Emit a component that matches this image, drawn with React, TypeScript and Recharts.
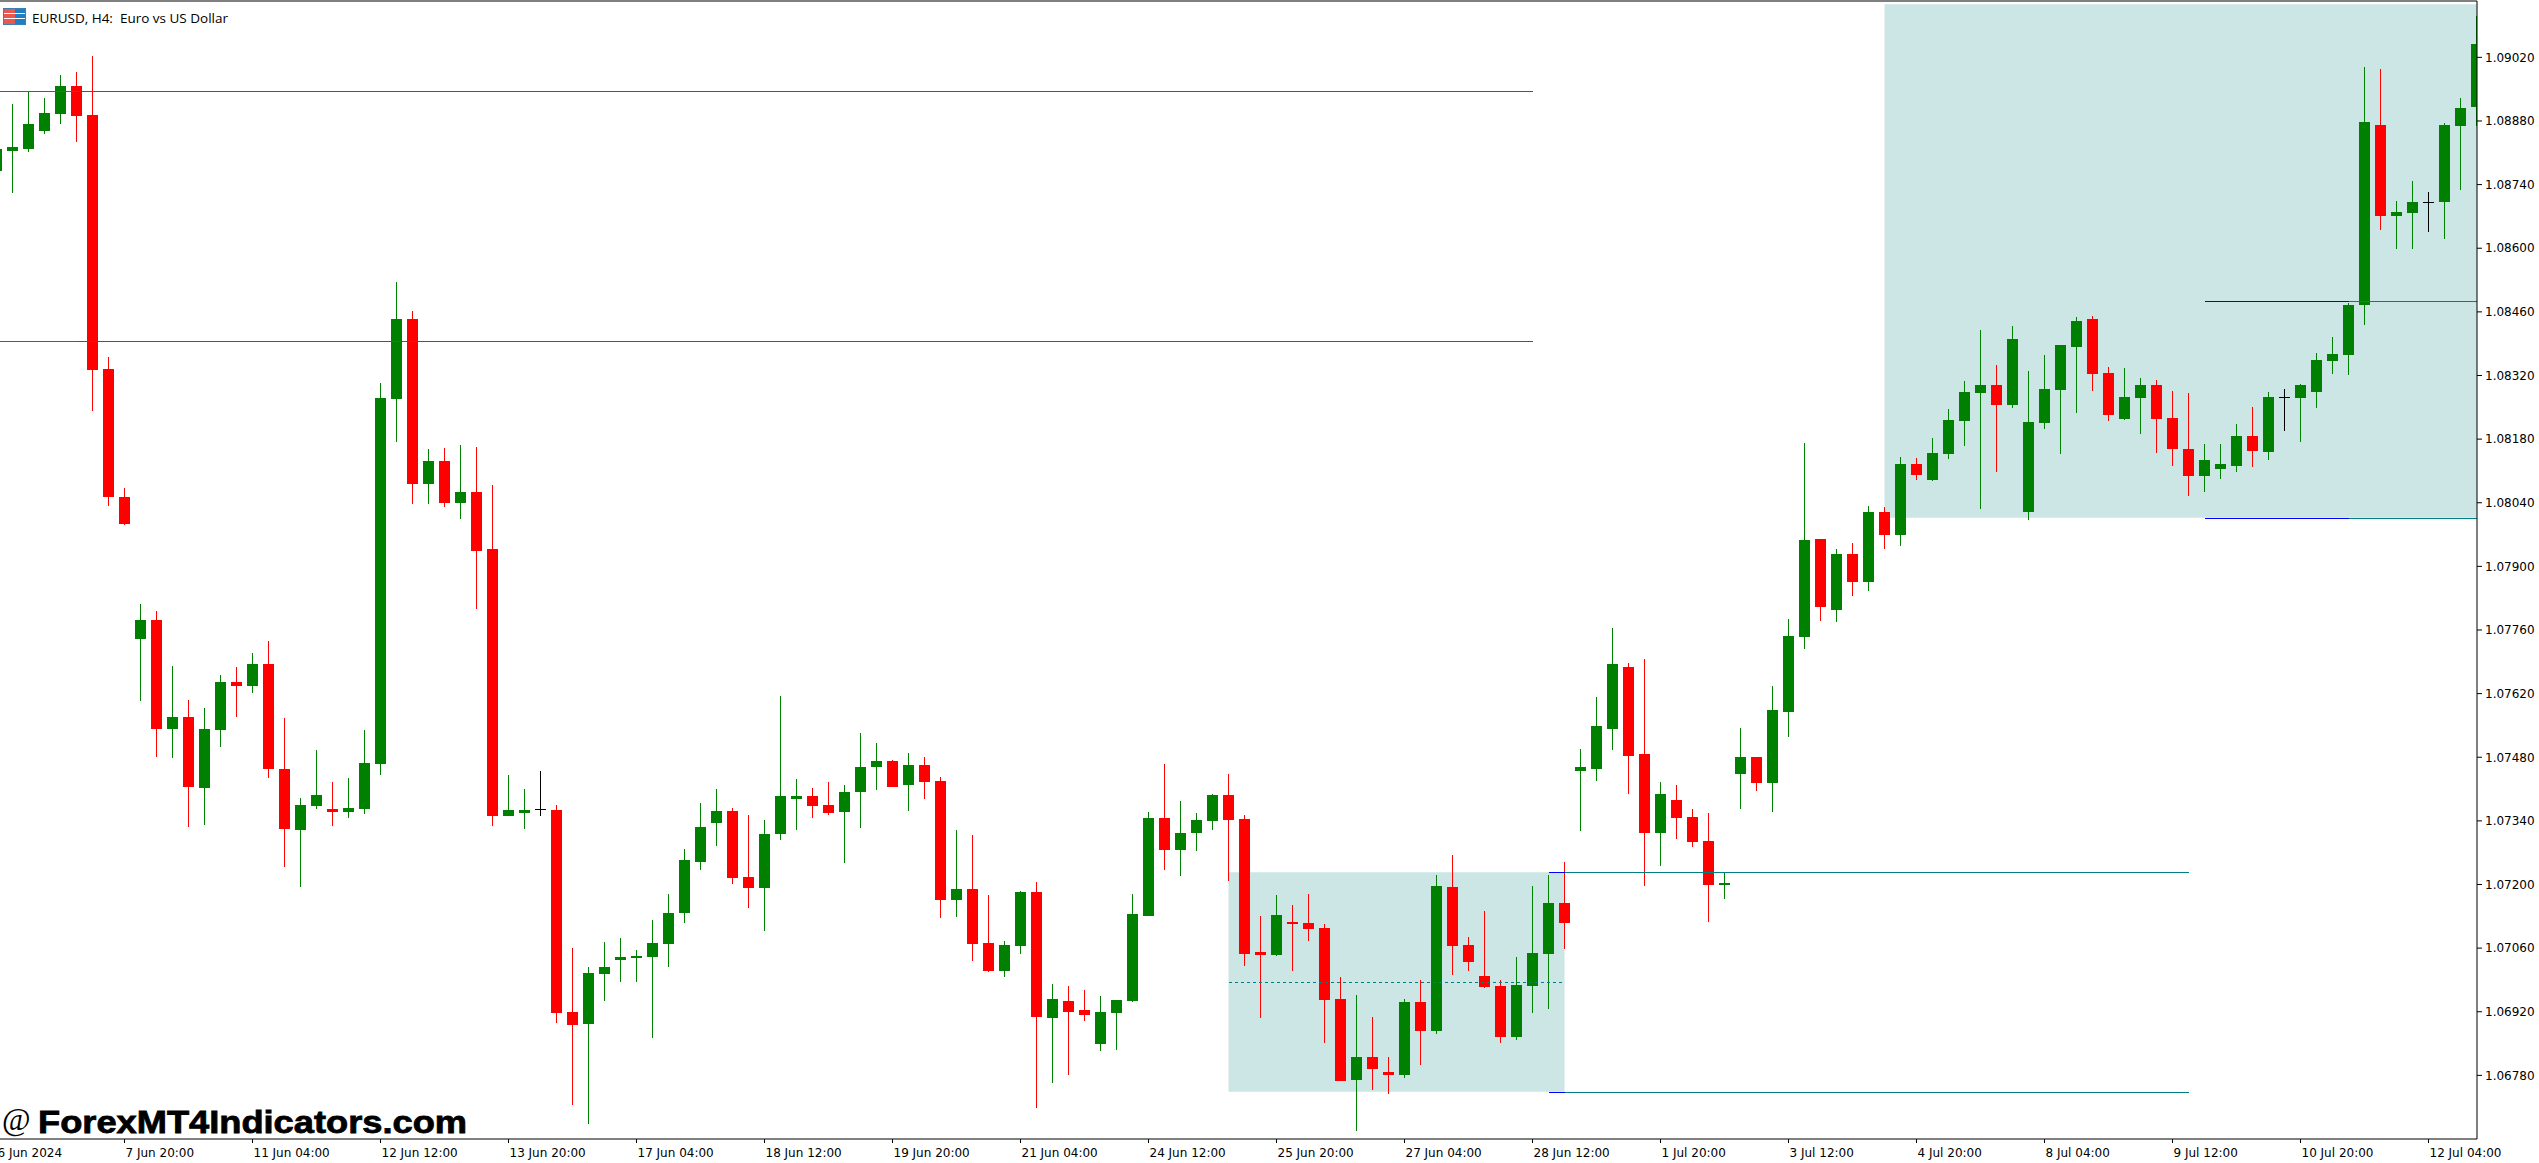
import { ComposedChart, Bar, XAxis, YAxis, ReferenceArea, ReferenceLine } from 'recharts'

// EURUSD H4, prices in points (1/100000), first bar is only partly on screen
const opens = [
  108770, 108814, 108818, 108858, 108895, 108957, 108893, 108334, 108053, 107740,
  107782, 107542, 107569, 107412, 107540, 107646, 107637, 107685, 107454, 107320,
  107373, 107366, 107360, 107366, 107465, 108268, 108444, 108081, 108132, 108039,
  108064, 107938, 107351, 107357, 107366, 107364, 106920, 106893, 107003, 107034,
  107038, 107041, 107069, 107137, 107250, 107335, 107362, 107217, 107192, 107311,
  107388, 107395, 107375, 107360, 107404, 107459, 107472, 107419, 107463, 107428,
  107166, 107190, 107071, 107010, 107065, 107184, 106906, 106944, 106924, 106849,
  106917, 106944, 107131, 107346, 107276, 107313, 107340, 107397, 107344, 107052,
  107045, 107118, 107115, 107104, 106948, 106770, 106821, 106788, 106781, 106942,
  106878, 107195, 107067, 106999, 106977, 106865, 106977, 107047, 107159, 107450,
  107454, 107542, 107679, 107487, 107313, 107386, 107349, 107296, 107199, 107443,
  107481, 107423, 107580, 107745, 107960, 107804, 107927, 107866, 108020, 107969,
  108125, 108090, 108147, 108220, 108281, 108299, 108255, 108020, 108215, 108288,
  108383, 108444, 108325, 108224, 108270, 108299, 108226, 108158, 108099, 108114,
  108121, 108187, 108152, 108273, 108270, 108284, 108352, 108365, 108475, 108871,
  108671, 108677, 108702, 108702, 108869, 108911,
]
const closes = [
  108818, 108823, 108873, 108897, 108957, 108891, 108332, 108053, 107993, 107782,
  107542, 107569, 107415, 107542, 107646, 107637, 107685, 107454, 107322, 107375,
  107397, 107360, 107368, 107467, 108270, 108444, 108081, 108132, 108039, 108064,
  107934, 107351, 107364, 107364, 107366, 106917, 106891, 107005, 107019, 107041,
  107043, 107071, 107137, 107254, 107327, 107362, 107214, 107192, 107311, 107395,
  107395, 107373, 107357, 107404, 107459, 107472, 107415, 107463, 107426, 107166,
  107190, 107069, 107010, 107067, 107184, 106909, 106948, 106920, 106913, 106920,
  106946, 107135, 107346, 107276, 107313, 107342, 107397, 107342, 107047, 107045,
  107133, 107113, 107102, 106946, 106768, 106821, 106794, 106781, 106942, 106878,
  107197, 107065, 107030, 106975, 106865, 106979, 107049, 107159, 107115, 107459,
  107549, 107685, 107483, 107313, 107399, 107346, 107294, 107199, 107203, 107481,
  107423, 107584, 107747, 107958, 107811, 107927, 107866, 108020, 107969, 108125,
  108101, 108149, 108222, 108284, 108299, 108255, 108400, 108218, 108290, 108387,
  108440, 108323, 108233, 108273, 108299, 108224, 108158, 108099, 108134, 108125,
  108187, 108154, 108273, 108273, 108299, 108354, 108367, 108475, 108878, 108671,
  108680, 108702, 108702, 108871, 108908, 109049,
]
const highs = [
  108838, 108917, 108945, 108930, 108981, 108988, 109023, 108361, 108072, 107817,
  107802, 107681, 107606, 107588, 107661, 107679, 107709, 107736, 107566, 107390,
  107496, 107426, 107434, 107540, 108303, 108526, 108462, 108158, 108160, 108167,
  108163, 108079, 107441, 107410, 107450, 107375, 107060, 107019, 107074, 107082,
  107056, 107122, 107179, 107278, 107379, 107410, 107368, 107353, 107342, 107615,
  107432, 107412, 107426, 107419, 107533, 107511, 107474, 107489, 107481, 107437,
  107320, 107309, 107177, 107076, 107186, 107206, 106981, 106977, 106968, 106955,
  106946, 107179, 107360, 107465, 107384, 107357, 107399, 107443, 107353, 107131,
  107177, 107155, 107179, 107113, 106997, 106957, 106909, 106821, 106948, 106990,
  107221, 107265, 107085, 107142, 106990, 107041, 107197, 107221, 107250, 107498,
  107613, 107764, 107687, 107696, 107426, 107419, 107366, 107357, 107226, 107544,
  107481, 107637, 107784, 108171, 107960, 107938, 107951, 108033, 108031, 108141,
  108138, 108182, 108246, 108308, 108420, 108343, 108429, 108330, 108365, 108387,
  108449, 108451, 108339, 108336, 108314, 108310, 108286, 108281, 108169, 108169,
  108213, 108251, 108284, 108290, 108301, 108369, 108405, 108479, 108999, 108994,
  108704, 108748, 108724, 108875, 108930, 109111,
]
const lows = [
  108754, 108722, 108812, 108851, 108873, 108834, 108242, 108033, 107991, 107604,
  107481, 107478, 107327, 107331, 107503, 107569, 107621, 107434, 107239, 107195,
  107366, 107329, 107346, 107355, 107441, 108174, 108037, 108037, 108031, 108004,
  107806, 107329, 107351, 107322, 107351, 106895, 106715, 106673, 106944, 106986,
  106986, 106862, 107019, 107115, 107232, 107285, 107201, 107148, 107098, 107298,
  107320, 107346, 107353, 107247, 107324, 107408, 107415, 107362, 107388, 107126,
  107129, 107032, 107008, 106997, 107047, 106708, 106763, 106781, 106900, 106834,
  106836, 106942, 107131, 107232, 107219, 107274, 107320, 107208, 107021, 106906,
  107043, 107010, 107076, 106851, 106768, 106658, 106748, 106739, 106774, 106803,
  106871, 107001, 107010, 106972, 106851, 106858, 106917, 106926, 107058, 107318,
  107428, 107496, 107399, 107197, 107241, 107300, 107283, 107118, 107168, 107366,
  107406, 107360, 107525, 107718, 107780, 107778, 107835, 107846, 107938, 107945,
  108090, 108088, 108136, 108165, 108026, 108108, 108248, 108002, 108202, 108147,
  108237, 108286, 108220, 108222, 108191, 108149, 108121, 108055, 108064, 108092,
  108108, 108119, 108134, 108198, 108174, 108248, 108323, 108321, 108431, 108640,
  108598, 108598, 108636, 108620, 108728, 108869,
]

const priceTicks = [
  1.0678, 1.0692, 1.0706, 1.072, 1.0734, 1.0748, 1.0762, 1.0776, 1.079,
  1.0804, 1.0818, 1.0832, 1.0846, 1.086, 1.0874, 1.0888, 1.0902,
]
const timeTicks = [-1, 7, 15, 23, 31, 39, 47, 55, 63, 71, 79, 87, 95, 103, 111, 119, 127, 135, 143, 151]
const timeLabels = [
  '6 Jun 2024', '7 Jun 20:00', '11 Jun 04:00', '12 Jun 12:00', '13 Jun 20:00',
  '17 Jun 04:00', '18 Jun 12:00', '19 Jun 20:00', '21 Jun 04:00', '24 Jun 12:00',
  '25 Jun 20:00', '27 Jun 04:00', '28 Jun 12:00', '1 Jul 20:00', '3 Jul 12:00',
  '4 Jul 20:00', '8 Jul 04:00', '9 Jul 12:00', '10 Jul 20:00', '12 Jul 04:00',
]

// indicator levels
const oldLevels = [1.08945, 1.08395]
const lowerBoxLevels = [1.07226, 1.06743]
const upperBoxLevels = [1.08483, 1.08006]
const lowerBoxMid = 1.06985

const X_MIN = -0.78125
const X_MAX = 154.03125
const Y_MIN = 1.0664
const Y_MAX = 1.09144

const TEAL = '#008080'
const CRIMSON = '#DC143C'
const BLUE = '#0000FF'
const ZONE = '#CCE6E6'

const data = opens.map((open, i) => ({
  bar: i - 1,
  open: open / 100000,
  close: closes[i] / 100000,
  high: highs[i] / 100000,
  low: lows[i] / 100000,
}))

function Candle(props: any) {
  const { x, y, width, height, payload } = props
  const { open, close, high, low } = payload
  const top = Math.min(y, y + height)
  const perPrice = Math.abs(height) / (high - low)
  const toY = (price: number) => top + (high - price) * perPrice
  const color = close > open ? '#008000' : close < open ? '#FF0000' : '#000000'
  const left = Math.round(x)
  const bodyTop = Math.round(toY(Math.max(open, close)))
  const bodyBottom = Math.round(toY(Math.min(open, close)))
  return (
    <g shapeRendering="crispEdges">
      <rect x={left + 5} y={top} width={1} height={Math.abs(height)} fill={color} />
      <rect x={left} y={bodyTop} width={width} height={Math.max(bodyBottom - bodyTop, 1)} fill={color} />
    </g>
  )
}

function TimeTick(props: any) {
  const { x, payload } = props
  const label = timeLabels[timeTicks.indexOf(payload.value)]
  return (
    <text x={x + 1} y={1157} fontSize={12} fontFamily="DejaVu Sans" fill="#000" textAnchor="start">
      {label}
    </text>
  )
}

// keeps the level lines on whole pixels, like the terminal draws them
function PixelLine(props: any) {
  const { x1, x2, y1, stroke, strokeDasharray } = props
  const y = Math.floor(y1) + 0.5
  return <line x1={x1} x2={x2} y1={y} y2={y} stroke={stroke} strokeDasharray={strokeDasharray} shapeRendering="crispEdges" />
}

const levelLine = (key: string, from: number, to: number, price: number, color: string, dash?: string) => (
  <ReferenceLine
    key={key}
    segment={[{ x: from, y: price }, { x: to, y: price }]}
    stroke={color}
    strokeDasharray={dash}
    ifOverflow="visible"
    shape={<PixelLine />}
  />
)

export default function App() {
  return (
    <div style={{ position: 'relative', width: 2539, height: 1163, overflow: 'hidden', background: '#fff' }}>
      <style>{'body { margin: 0; }'}</style>
      <ComposedChart
        width={2539}
        height={1163}
        data={data}
        margin={{ top: 1, right: 0, bottom: 0, left: 0 }}
      >
        <XAxis
          type="number"
          dataKey="bar"
          domain={[X_MIN, X_MAX]}
          allowDataOverflow
          ticks={timeTicks}
          interval={0}
          height={24}
          tick={<TimeTick />}
          tickSize={4}
          axisLine={{ stroke: '#000' }}
          tickLine={{ stroke: '#000' }}
        />
        <YAxis
          orientation="right"
          width={62}
          domain={[Y_MIN, Y_MAX]}
          allowDataOverflow
          ticks={priceTicks}
          interval={0}
          tickFormatter={(v: number) => v.toFixed(5)}
          tick={{ fill: '#000', fontSize: 12, fontFamily: 'DejaVu Sans' }}
          tickSize={5}
          tickMargin={3}
          axisLine={{ stroke: '#000' }}
          tickLine={{ stroke: '#000' }}
        />

        <ReferenceArea x1={76} x2={97} y1={1.06744} y2={1.07227} fill={ZONE} fillOpacity={1} stroke="none" />
        <ReferenceArea x1={117} x2={X_MAX} y1={1.08007} y2={1.09137} fill={ZONE} fillOpacity={1} stroke="none" />

        <Bar
          dataKey={(d: any) => [d.low, d.high]}
          barSize={11}
          shape={<Candle />}
          isAnimationActive={false}
        />

        <ReferenceLine y={Y_MAX} stroke="#000" ifOverflow="visible" />
        {oldLevels.map((p) => levelLine(`old-a-${p}`, X_MIN, 4, p, TEAL))}
        {oldLevels.map((p) => levelLine(`old-b-${p}`, 4, 95, p, CRIMSON))}
        {lowerBoxLevels.map((p) => levelLine(`low-a-${p}`, 96, 97, p, BLUE))}
        {lowerBoxLevels.map((p) => levelLine(`low-b-${p}`, 97, 136, p, TEAL))}
        {upperBoxLevels.map((p) => levelLine(`up-a-${p}`, 137, 146, p, BLUE))}
        {upperBoxLevels.map((p) => levelLine(`up-b-${p}`, 146, 154, p, TEAL))}
        {levelLine('mid', 76, 97, lowerBoxMid, TEAL, '3 3')}
      </ComposedChart>

      <svg
        width={2539}
        height={1163}
        style={{ position: 'absolute', left: 0, top: 0, pointerEvents: 'none' }}
      >
        <g shapeRendering="crispEdges">
          <rect x={3.5} y={8.5} width={22} height={16} fill="#fff" stroke="#3b7fb5" />
          <rect x={4} y={9} width={11} height={15} fill="#e8584f" />
          <rect x={15} y={9} width={10} height={15} fill="#1f7fc4" />
          <rect x={4} y={13} width={21} height={1} fill="#fff" />
          <rect x={4} y={18} width={21} height={1} fill="#fff" />
        </g>
        <text
          x={32}
          y={23}
          fontSize={12}
          fontFamily="Open Sans"
          fill="#000"
          textLength={196}
          lengthAdjust="spacingAndGlyphs"
          style={{ whiteSpace: 'pre' }}
        >
          {'EURUSD, H4:  Euro vs US Dollar'}
        </text>
        <text x={2} y={1130} fontSize={31} fontFamily="Liberation Serif" fill="#000">
          @
        </text>
        <text
          x={38}
          y={1133}
          fontSize={32}
          fontWeight={700}
          fontFamily="Liberation Sans"
          fill="#000"
          stroke="#000"
          strokeWidth={0.8}
          textLength={429}
          lengthAdjust="spacingAndGlyphs"
        >
          ForexMT4Indicators.com
        </text>
      </svg>
    </div>
  )
}
